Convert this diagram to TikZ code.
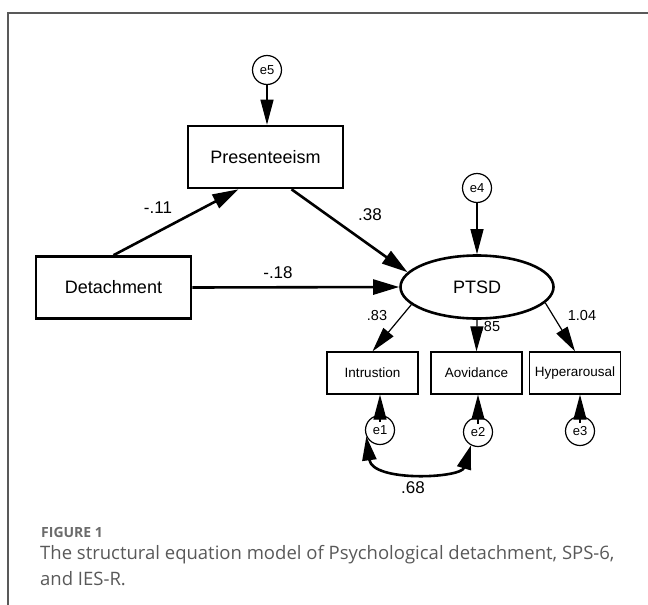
\documentclass[tikz,border=0pt]{standalone}
\usepackage{fontspec}
\setmainfont{Liberation Sans}
\newfontfamily\capfont{Open Sans}
\usetikzlibrary{arrows.meta,shapes.geometric}

\begin{document}
\begin{tikzpicture}[
  obsbig/.style    = {draw, line width=2.6pt, minimum width=155pt, minimum height=62pt, inner sep=0pt, font=\fontsize{18}{20}\selectfont},
  obssmall/.style  = {draw, line width=1.3pt, minimum width=91pt, minimum height=42pt, inner sep=0pt, font=\fontsize{13.5}{15}\selectfont},
  latent/.style    = {draw, ellipse, line width=2.6pt, minimum width=153pt, minimum height=63pt, inner sep=0pt, font=\fontsize{18}{20}\selectfont},
  errnode/.style   = {draw, circle, line width=1.2pt, minimum size=29pt, inner sep=0pt, font=\fontsize{13}{14}\selectfont},
  pathbig/.style   = {-{Triangle[length=26pt,width=15pt]}, line width=2.6pt},
  pathsmall/.style = {-{Triangle[length=25pt,width=13pt]}, line width=1.2pt},
  covpath/.style   = {{Triangle[length=24pt,width=14pt]}-{Triangle[length=24pt,width=14pt]}, line width=2.6pt},
  coefbig/.style   = {font=\fontsize{17}{19}\selectfont, inner sep=0pt},
  coefsmall/.style = {font=\fontsize{14.5}{16}\selectfont, inner sep=0pt},
  panel/.style     = {draw=black!65, line width=1.3pt},
  x=1pt, y=-1pt,
]
  \useasboundingbox (0,0) rectangle (648,605);
  \draw[panel] (648,13) -- (8,13) -- (8,605);

  \node[obsbig]   (pres)  at (265.5,157)   {Presenteeism};
  \node[obsbig]   (det)   at (113.5,287.5) {Detachment};
  \node[latent]   (ptsd)  at (477,287)     {PTSD};
  \node[errnode]  (e5)    at (267,70)      {e5};
  \node[errnode]  (e4)    at (477,188)     {e4};
  \node[obssmall] (intr)  at (372.5,373)   {Intrustion};
  \node[obssmall] (aovid) at (476.5,373)   {Aovidance};
  \node[obssmall] (hyper) at (575,373)     {Hyperarousal};
  \node[errnode]  (e1)    at (380,430)     {e1};
  \node[errnode]  (e2)    at (478,432)     {e2};
  \node[errnode]  (e3)    at (580,431)     {e3};

  \node[coefbig]   (c11)  at (158,208) {-.11};
  \node[coefbig]   (c38)  at (370,215) {.38};
  \node[coefbig]   (c18)  at (278,273) {-.18};
  \node[coefsmall] (c83)  at (377,316) {.83};
  \node[coefsmall] (c85)  at (490,327) {.85};
  \node[coefsmall] (c104) at (582,316) {1.04};
  \node[coefbig]   (c68)  at (413,488) {.68};

  \draw[pathbig] (det.north) -- ([xshift=-27pt]pres.south);
  \draw[pathbig] ([xshift=26pt]pres.south) -- (ptsd.168);
  \draw[pathbig] (det.east) -- (ptsd.west);
  \draw[pathsmall] (e5) -- (e5 |- pres.north);
  \draw[pathsmall] (e4) -- (ptsd.north);
  \draw[pathsmall] (ptsd.195) -- (intr.north);
  \draw[pathsmall] (ptsd.south) -- (aovid.north);
  \draw[pathsmall] (ptsd.-13) -- (hyper.north);
  \draw[pathsmall] ([yshift=-7pt]e1.north) -- (e1 |- intr.south);
  \draw[pathsmall] ([yshift=-7pt]e2.north) -- (e2 |- aovid.south);
  \draw[pathsmall] ([yshift=-7pt]e3.north) -- (e3 |- hyper.south);
  \draw[covpath] (e1.205) .. controls +(6,46) and +(-10,33) .. (e2.242);

  \node[anchor=base west, inner sep=0pt, text=black!58, font=\capfont\bfseries\fontsize{14}{16}\selectfont] (fig) at (41,537) {FIGURE 1};
  \node[anchor=base west, inner sep=0pt, text=black!65, font=\capfont\fontsize{18.5}{21}\selectfont] (cap1) at (40,559) {The structural equation model of Psychological detachment, SPS-6,};
  \node[anchor=base west, inner sep=0pt, text=black!65, font=\capfont\fontsize{18.5}{21}\selectfont] (cap2) at (40,585) {and IES-R.};
\end{tikzpicture}
\end{document}
